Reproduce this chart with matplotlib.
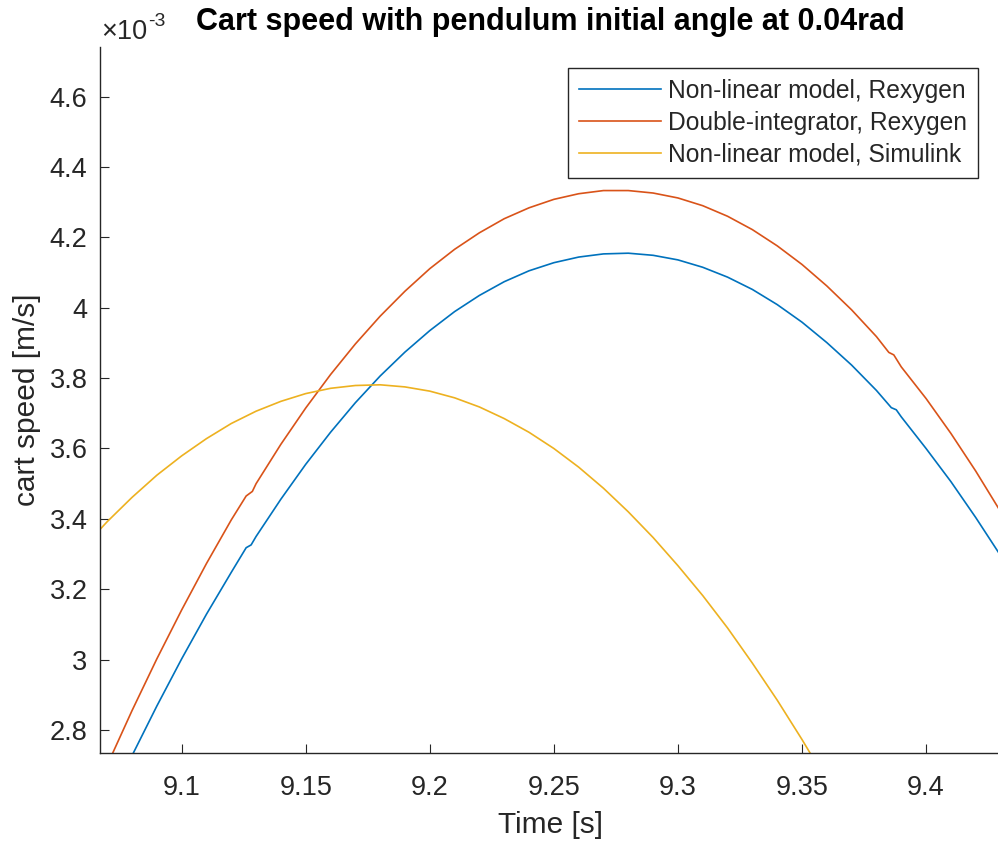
import matplotlib
matplotlib.use("Agg")
import matplotlib.pyplot as plt
from matplotlib.ticker import FixedLocator, FuncFormatter

# Cart speed in units of 1e-3 m/s
t_nl_rex = [9.07, 9.08, 9.09, 9.10, 9.11, 9.12, 9.126, 9.128, 9.13, 9.14, 9.15,
            9.16, 9.17, 9.18, 9.19, 9.20, 9.21, 9.22, 9.23, 9.24, 9.25, 9.26,
            9.27, 9.28, 9.29, 9.30, 9.31, 9.32, 9.33, 9.34, 9.35, 9.36, 9.37,
            9.38, 9.386, 9.388, 9.39, 9.40, 9.41, 9.42, 9.43]
v_nl_rex = [2.578, 2.727, 2.868, 3.002, 3.129, 3.248, 3.318, 3.326, 3.350, 3.456, 3.555,
            3.646, 3.730, 3.806, 3.874, 3.935, 3.989, 4.035, 4.074, 4.105, 4.128, 4.144,
            4.153, 4.155, 4.149, 4.136, 4.115, 4.087, 4.052, 4.009, 3.959, 3.901, 3.837,
            3.765, 3.716, 3.710, 3.690, 3.600, 3.506, 3.404, 3.296]

t_di_rex = [9.06, 9.07, 9.08, 9.09, 9.10, 9.11, 9.12, 9.126, 9.1285, 9.13, 9.14, 9.15,
            9.16, 9.17, 9.18, 9.19, 9.20, 9.21, 9.22, 9.23, 9.24, 9.25, 9.26,
            9.27, 9.28, 9.29, 9.30, 9.31, 9.32, 9.33, 9.34, 9.35, 9.36, 9.37,
            9.38, 9.385, 9.387, 9.39, 9.40, 9.41, 9.42, 9.43]
v_di_rex = [2.540, 2.700, 2.855, 3.002, 3.141, 3.273, 3.397, 3.465, 3.478, 3.500, 3.612, 3.715,
            3.810, 3.897, 3.976, 4.047, 4.111, 4.166, 4.213, 4.253, 4.284, 4.308, 4.324,
            4.333, 4.333, 4.326, 4.312, 4.290, 4.260, 4.222, 4.176, 4.123, 4.062, 3.994,
            3.918, 3.873, 3.866, 3.832, 3.742, 3.643, 3.536, 3.421]

t_nl_sim = [9.06, 9.07, 9.08, 9.09, 9.10, 9.11, 9.12, 9.13, 9.14, 9.15, 9.16,
            9.17, 9.18, 9.19, 9.20, 9.21, 9.22, 9.23, 9.24, 9.25, 9.26, 9.27,
            9.28, 9.29, 9.30, 9.31, 9.32, 9.33, 9.34, 9.35, 9.36]
v_nl_sim = [3.316, 3.392, 3.461, 3.524, 3.579, 3.628, 3.671, 3.706, 3.734, 3.756, 3.771,
            3.779, 3.781, 3.775, 3.763, 3.744, 3.718, 3.685, 3.646, 3.600, 3.547, 3.487,
            3.420, 3.347, 3.267, 3.182, 3.090, 2.990, 2.885, 2.773, 2.655]

series_labels = ["Non-linear model, Rexygen",
                 "Double-integrator, Rexygen",
                 "Non-linear model, Simulink"]
series_colors = ["#0072BD", "#D95319", "#EDB120"]

x_ticks = [9.10, 9.15, 9.20, 9.25, 9.30, 9.35, 9.40]
y_ticks = [2.8, 3.0, 3.2, 3.4, 3.6, 3.8, 4.0, 4.2, 4.4, 4.6]

TXT = "#262626"
plt.rcParams["font.family"] = ["Liberation Sans", "DejaVu Sans"]

fig = plt.figure(figsize=(9.98, 8.44), dpi=100)
ax = fig.add_axes([100 / 998, 91 / 844, 900 / 998, 706 / 844])

for t, v, lab, col in zip([t_nl_rex, t_di_rex, t_nl_sim],
                          [v_nl_rex, v_di_rex, v_nl_sim],
                          series_labels, series_colors):
    ax.plot(t, v, color=col, lw=1.2, label=lab)

ax.set_xlim(9.0671, 9.4298)
ax.set_ylim(2.7346, 4.741)

for side in ("top", "right"):
    ax.spines[side].set_visible(False)
for side in ("left", "bottom"):
    ax.spines[side].set_color(TXT)
    ax.spines[side].set_linewidth(1.0)

ax.xaxis.set_major_locator(FixedLocator(x_ticks))
ax.yaxis.set_major_locator(FixedLocator(y_ticks))
fmt = FuncFormatter(lambda val, pos: f"{val:g}")
ax.xaxis.set_major_formatter(fmt)
ax.yaxis.set_major_formatter(fmt)
ax.tick_params(direction="in", length=6.5, width=0.8, colors=TXT,
               labelsize=19.5, labelcolor=TXT)
ax.tick_params(axis="y", pad=9)
ax.tick_params(axis="x", pad=16)

# axis exponent, drawn as "×10" with a raised "-3"
ax.annotate("\u00d710", xy=(0.0, 1.0), xycoords="axes fraction",
            xytext=(1, 6), textcoords="offset points",
            fontsize=19.5, color=TXT, ha="left", va="baseline")
ax.annotate("-3", xy=(0.0, 1.0), xycoords="axes fraction",
            xytext=(35, 15), textcoords="offset points",
            fontsize=14, color=TXT, ha="left", va="baseline")

ax.set_title("Cart speed with pendulum initial angle at 0.04rad",
             fontsize=22, fontweight="bold", color="black", pad=12)
ax.set_xlabel("Time [s]", fontsize=21.5, color=TXT, labelpad=7)
ax.set_ylabel("cart speed [m/s]", fontsize=21.5, color=TXT, labelpad=6)

leg = ax.legend(loc="upper right", bbox_to_anchor=(978 / 998, 1 - 68 / 844),
                bbox_transform=fig.transFigure, borderaxespad=0,
                fontsize=17.7, frameon=True, fancybox=False, framealpha=1,
                handlelength=3.3, handletextpad=0.3, labelspacing=0.32,
                borderpad=0.45)
leg.get_frame().set_edgecolor(TXT)
leg.get_frame().set_linewidth(1.0)
for txt in leg.get_texts():
    txt.set_color(TXT)

fig.savefig("out.png", dpi=100, facecolor="white")
